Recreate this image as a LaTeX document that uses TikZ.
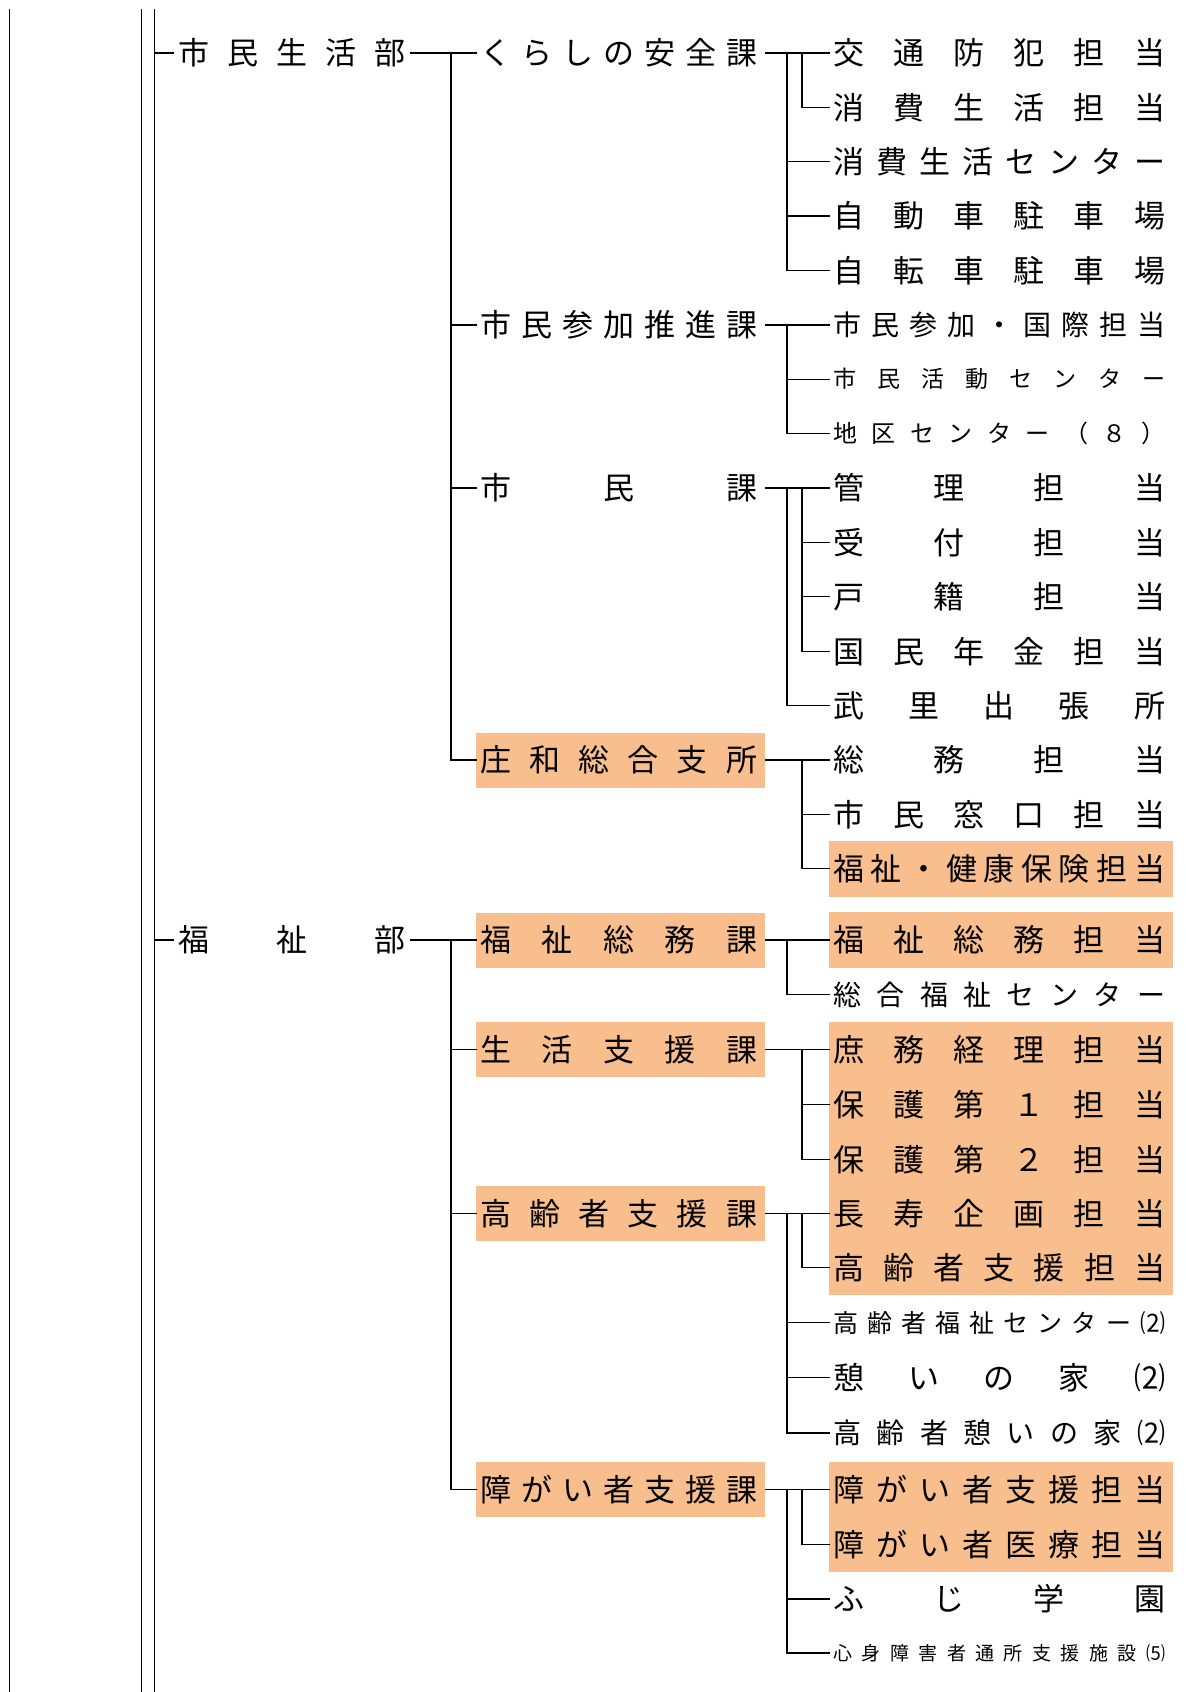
\documentclass[tikz,border=0pt]{standalone}
\usepackage{fontspec}
\setmainfont{Noto Sans CJK JP}
\definecolor{hlorange}{RGB}{248,190,141}
\makeatletter
\newcommand\spreadit[2]{\makebox[#1][s]{\let\spsep\relax\@tfor\spch:=#2\do{\spsep\spch\let\spsep\hfill}}}
\makeatother
\newcommand\dtx[1]{\fontsize{31}{31}\selectfont\spreadit{227pt}{#1}}
\newcommand\stx[1]{\fontsize{31}{31}\selectfont\spreadit{277pt}{#1}\kern4pt}
\newcommand\itx[2][31]{\fontsize{#1}{#1}\selectfont\spreadit{332pt}{#2}\kern4pt}
\tikzset{
  conn/.style={line width=1.3pt, line cap=rect},
  frame/.style={line width=1.5pt},
  dept/.style={anchor=west, inner xsep=5pt, inner ysep=0pt, minimum height=54pt},
  sect/.style={anchor=west, inner xsep=4pt, inner ysep=0pt, minimum height=55pt, minimum width=289pt},
  item/.style={anchor=west, inner xsep=4pt, inner ysep=0pt, minimum height=55.4pt, minimum width=344pt},
  hl/.style={fill=hlorange},
}
\begin{document}
\begin{tikzpicture}[x=1pt,y=-1pt]
\useasboundingbox[fill=white] (0,0) rectangle (1186,1692);
% frame lines
\coordinate (v0t) at (9.7,9);   \coordinate (v0b) at (9.7,1692);
\coordinate (v1t) at (141.5,9); \coordinate (v1b) at (141.5,1692);
\coordinate (v2t) at (154.5,9); \coordinate (v2b) at (154.5,1692);
\coordinate (sx) at (451,0);
\coordinate (ox) at (787,0);
\coordinate (ix) at (802,0);
\draw[frame] (v0t) -- (v0b);
\draw[frame] (v1t) -- (v1b);
\draw[frame] (v2t) -- (v2b);
% departments
\node[dept] (d1) at (173,52.9) {\dtx{市民生活部}};
\node[dept] (d2) at (173,940) {\dtx{福祉部}};
% sections
\node[sect] (s1) at (476,52.9) {\stx{くらしの安全課}};
\node[sect] (s2) at (476,324.9) {\stx{市民参加推進課}};
\node[sect] (s3) at (476,488.0) {\stx{市民課}};
\node[sect,hl] (s4) at (476,760.0) {\stx{庄和総合支所}};
\node[sect,hl] (s5) at (476,940) {\stx{福祉総務課}};
\node[sect,hl] (s6) at (476,1049.7) {\stx{生活支援課}};
\node[sect,hl] (s7) at (476,1213.5) {\stx{高齢者支援課}};
\node[sect,hl] (s8) at (476,1489.5) {\stx{障がい者支援課}};
% items
\node[item] (i1) at (829,52.9) {\itx{交通防犯担当}};
\node[item] (i2) at (829,107.3) {\itx{消費生活担当}};
\node[item] (i3) at (829,161.7) {\itx{消費生活センター}};
\node[item] (i4) at (829,216.1) {\itx{自動車駐車場}};
\node[item] (i5) at (829,270.5) {\itx{自転車駐車場}};
\node[item] (i6) at (829,324.9) {\itx[28]{市民参加・国際担当}};
\node[item] (i7) at (829,379.2) {\itx[23]{市民活動センター}};
\node[item] (i8) at (829,433.6) {\itx[24]{地区センター（８）}};
\node[item] (i9) at (829,488.0) {\itx{管理担当}};
\node[item] (i10) at (829,542.4) {\itx{受付担当}};
\node[item] (i11) at (829,596.8) {\itx{戸籍担当}};
\node[item] (i12) at (829,651.2) {\itx{国民年金担当}};
\node[item] (i13) at (829,705.6) {\itx{武里出張所}};
\node[item] (i14) at (829,760.0) {\itx{総務担当}};
\node[item] (i15) at (829,814.4) {\itx{市民窓口担当}};
\node[item,hl] (i16) at (829,868.8) {\itx{福祉・健康保険担当}};
\node[item,hl] (i17) at (829,940) {\itx{福祉総務担当}};
\node[item] (i18) at (829,994.8) {\itx[28]{総合福祉センター}};
\node[item,hl] (i19) at (829,1049.7) {\itx{庶務経理担当}};
\node[item,hl] (i20) at (829,1104.5) {\itx{保護第１担当}};
\node[item,hl] (i21) at (829,1159.2) {\itx{保護第２担当}};
\node[item,hl] (i22) at (829,1213.5) {\itx{長寿企画担当}};
\node[item,hl] (i23) at (829,1267.6) {\itx{高齢者支援担当}};
\node[item] (i24) at (829,1322.5) {\itx[25]{高齢者福祉センター⑵}};
\node[item] (i25) at (829,1377.5) {\itx{憩いの家⑵}};
\node[item] (i26) at (829,1433.0) {\itx[28]{高齢者憩いの家⑵}};
\node[item,hl] (i27) at (829,1489.5) {\itx{障がい者支援担当}};
\node[item,hl] (i28) at (829,1544.2) {\itx{障がい者医療担当}};
\node[item] (i29) at (829,1599.0) {\itx{ふじ学園}};
\node[item] (i30) at (829,1653.0) {\itx[19]{心身障害者通所支援施設⑸}};
% department connectors
\draw[conn] (d1.west -| v2t) -- (d1.west);
\draw[conn] (d2.west -| v2t) -- (d2.west);
\draw[conn] (d1.east) -- (s1.west);
\draw[conn] (d2.east) -- (s5.west);
\draw[conn] (s1.west -| sx) |- (s4.west);
\draw[conn] (s2.west -| sx) -- (s2.west);
\draw[conn] (s3.west -| sx) -- (s3.west);
\draw[conn] (s5.west -| sx) |- (s8.west);
\draw[conn] (s6.west -| sx) -- (s6.west);
\draw[conn] (s7.west -| sx) -- (s7.west);
% group 1
\draw[conn] (s1.east) -- (i1.west);
\draw[conn] (s1.east -| ox) |- (i5.west);
\draw[conn] (i3.west -| ox) -- (i3.west);
\draw[conn] (i4.west -| ox) -- (i4.west);
\draw[conn] (s1.east -| ix) |- (i2.west);
% group 2
\draw[conn] (s2.east) -- (i6.west);
\draw[conn] (s2.east -| ox) |- (i8.west);
\draw[conn] (i7.west -| ox) -- (i7.west);
% group 3
\draw[conn] (s3.east) -- (i9.west);
\draw[conn] (s3.east -| ix) |- (i12.west);
\draw[conn] (i10.west -| ix) -- (i10.west);
\draw[conn] (i11.west -| ix) -- (i11.west);
\draw[conn] (s3.east -| ox) |- (i13.west);
% group 4
\draw[conn] (s4.east) -- (i14.west);
\draw[conn] (s4.east -| ix) |- (i16.west);
\draw[conn] (i15.west -| ix) -- (i15.west);
% group 5
\draw[conn] (s5.east) -- (i17.west);
\draw[conn] (s5.east -| ox) |- (i18.west);
% group 6
\draw[conn] (s6.east) -- (i19.west);
\draw[conn] (s6.east -| ix) |- (i21.west);
\draw[conn] (i20.west -| ix) -- (i20.west);
% group 7
\draw[conn] (s7.east) -- (i22.west);
\draw[conn] (s7.east -| ix) |- (i23.west);
\draw[conn] (s7.east -| ox) |- (i26.west);
\draw[conn] (i24.west -| ox) -- (i24.west);
\draw[conn] (i25.west -| ox) -- (i25.west);
% group 8
\draw[conn] (s8.east) -- (i27.west);
\draw[conn] (s8.east -| ix) |- (i28.west);
\draw[conn] (s8.east -| ox) |- (i30.west);
\draw[conn] (i29.west -| ox) -- (i29.west);
\end{tikzpicture}
\end{document}
